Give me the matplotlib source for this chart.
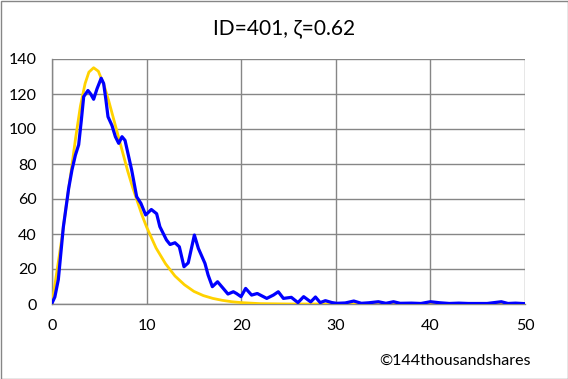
import matplotlib
matplotlib.use("Agg")
import matplotlib.pyplot as plt
from matplotlib.patches import Rectangle

title = "ID=401, ζ=0.62"
credit = "©144thousandshares"

blue_x = [0, 0.3, 0.67, 1.2, 1.76, 2.11, 2.47, 2.82, 3.1, 3.35, 3.8, 4.09, 4.4, 4.76, 5.2,
          5.46, 5.7, 5.92, 6.34, 6.7, 7.05, 7.4, 7.72, 8.42, 8.95, 9.4, 9.9, 10.5, 11.06,
          11.4, 12.1, 12.48, 13.0, 13.46, 13.95, 14.4, 15.05, 15.47, 16.17, 16.5, 16.95,
          17.5, 18.1, 18.6, 19.17, 19.5, 19.98, 20.47, 21.1, 21.7, 22.7, 23.4, 23.92,
          24.46, 25.3, 26.0, 26.6, 27.35, 27.85, 28.35, 28.9, 29.6, 30.1, 31.0, 31.9,
          32.7, 33.5, 34.5, 35.3, 36.1, 36.8, 38, 39, 40.0, 41.0, 42, 43, 44, 45, 46,
          47.5, 48.2, 49, 50]
blue_y = [0.5, 4, 14, 44, 66, 76.6, 85, 91, 105, 118.5, 122, 120, 117, 123, 129,
          126, 116.6, 107, 102, 95.6, 91.8, 95.6, 93.5, 76.6, 61.3, 57.5, 50.9, 54, 51.6,
          44.2, 36.6, 34, 35, 32.7, 21.3, 23.5, 39.4, 31.8, 23.2, 16.6, 9.9,
          12.7, 8.9, 5.7, 7, 6, 4.2, 8.9, 5.1, 6, 3.2, 5.1, 7,
          3.2, 3.8, 0.8, 4.2, 1.2, 4.0, 0.8, 1.9, 0.8, 0.4, 0.6, 1.7,
          0.4, 0.7, 1.3, 0.4, 1.3, 0.4, 0.5, 0.3, 1.3, 0.7, 0.3, 0.5, 0.3, 0.3, 0.3,
          1.3, 0.3, 0.5, 0.2]

yellow_x = [0, 0.5, 1.0, 1.5, 2.0, 2.5, 3.0, 3.5, 3.9, 4.4, 4.9, 5.5, 6.0, 6.5, 7.0, 7.5,
            8.0, 8.5, 9.0, 9.5, 10.0, 10.5, 11.0, 12.0, 13.0, 14.0, 15.0, 16.0, 17.0,
            18.0, 19.0, 20.0, 22, 25, 50]
yellow_y = [0, 18, 36, 56, 75, 95, 113, 126, 132.5, 135, 133, 125, 116, 106, 96, 86,
            76, 67, 59, 51, 44, 38, 32, 23, 16, 11, 7.2, 4.8, 3.2,
            2.1, 1.3, 0.8, 0.2, 0, 0]

x_ticks = [0, 10, 20, 30, 40, 50]
y_ticks = [0, 20, 40, 60, 80, 100, 120, 140]

plt.rcParams['font.family'] = ['Lato', 'DejaVu Sans']

fig = plt.figure(figsize=(5.68, 3.79), dpi=100)
ax = fig.add_axes([52/568, 75/379, 473/568, 245/379])

ax.plot(yellow_x, yellow_y, color='#FFD200', lw=2.0, solid_capstyle='round',
        solid_joinstyle='round', zorder=3)
ax.plot(blue_x, blue_y, color='#0000FF', lw=2.3, solid_joinstyle='round', zorder=4)

ax.set_xlim(0, 50)
ax.set_ylim(0, 140)
ax.set_xticks(x_ticks)
ax.set_yticks(y_ticks)
ax.grid(True, color='#868686', lw=1.0)
ax.set_axisbelow(True)
for s in ['top', 'right']:
    ax.spines[s].set_visible(False)
for s in ['left', 'bottom']:
    ax.spines[s].set_color('#868686')
    ax.spines[s].set_linewidth(1.0)
ax.tick_params(length=0, labelsize=11.5, colors='black')
ax.tick_params(axis='y', pad=11)
ax.tick_params(axis='x', pad=11)

fig.text(284/568, 1 - 28/379, title, ha='center', va='center', fontsize=15)
fig.text(531/568, 1 - 361/379, credit, ha='right', va='center', fontsize=11.5)

fig.patches.append(Rectangle((0.5/568, 0.5/379), 567/568, 378/379, transform=fig.transFigure,
                             fill=False, edgecolor='#868686', lw=1.0))

fig.savefig('out.png', dpi=100)
